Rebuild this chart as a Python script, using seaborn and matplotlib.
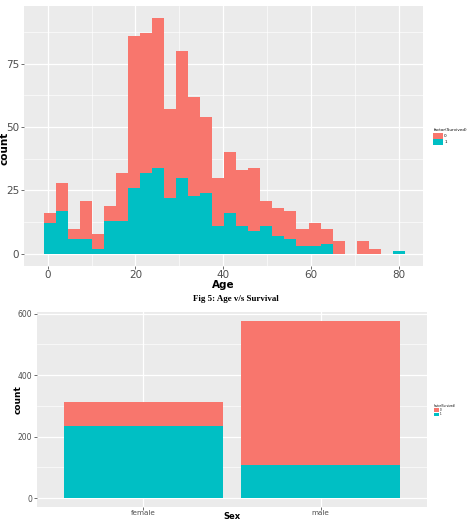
import matplotlib
matplotlib.use("Agg")
import matplotlib.pyplot as plt
from matplotlib.ticker import MultipleLocator
import numpy as np
import pandas as pd
import seaborn as sns

# age histogram, 30 bins (ggplot default), counts
age_min, age_max, n_bins = 0.42, 80.0, 30
total_age = [16, 28, 10, 21, 8, 19, 32, 86, 87, 93, 57, 80, 62, 54, 30,
             40, 33, 34, 21, 18, 17, 10, 12, 10, 5, 0, 5, 2, 0, 1]
survived_age = [12, 17, 6, 6, 2, 13, 13, 26, 32, 34, 22, 30, 23, 24, 11,
                16, 11, 9, 11, 7, 6, 3, 3, 4, 0, 0, 0, 0, 0, 1]

# sex bar chart
sex = ["female", "male"]
sex_died = [81, 468]
sex_survived = [233, 109]

red, teal = "#F8766D", "#00BFC4"
pal = {0: red, 1: teal}

width = (age_max - age_min) / (n_bins - 1)
edges = age_min - width / 2 + width * np.arange(n_bins + 1)
centers = (edges[:-1] + edges[1:]) / 2
died_age = [t - s for t, s in zip(total_age, survived_age)]

df_age = pd.DataFrame({
    "Age": np.concatenate([centers, centers]),
    "n": died_age + survived_age,
    "Survived": [0] * n_bins + [1] * n_bins,
})
df_sex = pd.DataFrame({
    "Sex": sex + sex,
    "n": sex_died + sex_survived,
    "Survived": [0, 0, 1, 1],
})

fig = plt.figure(figsize=(4.75, 5.22), dpi=100)
ax1 = fig.add_axes([0.0505, 0.491, 0.84, 0.4975])
ax2 = fig.add_axes([0.0779, 0.0287, 0.821, 0.3741])


def gg_style(ax, tick_size):
    ax.set_facecolor("#EBEBEB")
    for s in ax.spines.values():
        s.set_visible(False)
    ax.set_axisbelow(True)
    ax.grid(which="major", color="white", linewidth=0.9)
    ax.grid(which="minor", color="white", linewidth=0.45)
    ax.tick_params(which="major", length=2, width=0.5, color="#333333",
                   labelcolor="#4D4D4D", labelsize=tick_size, pad=1.5)
    ax.tick_params(which="minor", length=0)


sns.histplot(data=df_age, x="Age", weights="n", hue="Survived", hue_order=[0, 1],
             bins=edges.tolist(), multiple="stack", palette=pal, alpha=1,
             linewidth=0, ax=ax1)
gg_style(ax1, 7.5)
ax1.tick_params(axis="x", pad=0.8)
ax1.set_xlim(-5.4, 85.5)
top = max(total_age)
ax1.set_ylim(-0.05 * top, 1.05 * top)
ax1.xaxis.set_major_locator(MultipleLocator(20))
ax1.xaxis.set_minor_locator(MultipleLocator(10))
ax1.yaxis.set_major_locator(MultipleLocator(25))
ax1.yaxis.set_minor_locator(MultipleLocator(12.5))
ax1.set_xlabel("Age", fontsize=7.5, fontweight="bold")
ax1.xaxis.set_label_coords(0.5, -0.056)
ax1.set_ylabel("count", fontsize=7.5, fontweight="bold")
ax1.yaxis.set_label_coords(-0.036, 0.45)
sns.move_legend(ax1, loc="upper left", bbox_to_anchor=(0.908, 0.758),
                bbox_transform=fig.transFigure, title="factor(Survived)",
                frameon=False, fontsize=3, title_fontsize=3,
                handlelength=2.2, handleheight=1.8, labelspacing=0.05,
                borderpad=0, handletextpad=0.4)
ax1.get_legend()._legend_box.align = "left"

sns.histplot(data=df_sex, x="Sex", weights="n", hue="Survived", hue_order=[0, 1],
             discrete=True, shrink=0.9, multiple="stack", palette=pal,
             alpha=1, linewidth=0, ax=ax2)
gg_style(ax2, 5.5)
ax2.tick_params(axis="x", labelsize=5.2, pad=0.4)
ax2.set_xlim(-0.6, 1.6)
top2 = max(d + s for d, s in zip(sex_died, sex_survived))
ax2.set_ylim(-0.05 * top2, 1.05 * top2)
ax2.set_xticks([0, 1])
ax2.set_xticklabels(sex)
ax2.yaxis.set_major_locator(MultipleLocator(200))
ax2.yaxis.set_minor_locator(MultipleLocator(100))
ax2.set_xlabel("Sex", fontsize=6, fontweight="bold", va="bottom")
ax2.xaxis.set_label_coords(0.5, -0.074)
ax2.set_ylabel("count", fontsize=6.5, fontweight="bold")
ax2.yaxis.set_label_coords(-0.036, 0.55)
sns.move_legend(ax2, loc="upper left", bbox_to_anchor=(0.911, 0.229),
                bbox_transform=fig.transFigure, title="factor(Survived)",
                frameon=False, fontsize=2, title_fontsize=2,
                handlelength=1.6, handleheight=1.4, labelspacing=0.05,
                borderpad=0, handletextpad=0.4)
ax2.get_legend()._legend_box.align = "left"

fig.text(0.497, 0.427, "Fig 5: Age v/s Survival", ha="center", va="center",
         family="Liberation Serif", fontweight="bold", fontsize=6.4)

fig.savefig("out.png", dpi=100)
